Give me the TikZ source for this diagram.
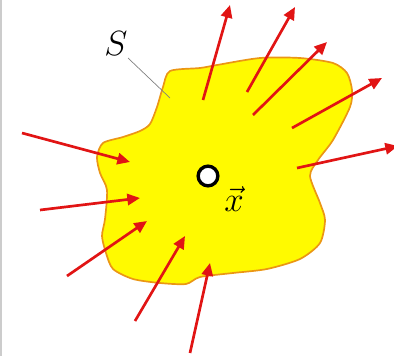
\documentclass[tikz,border=0pt]{standalone}
\usetikzlibrary{arrows.meta}
\definecolor{blobyellow}{RGB}{255,250,0}
\definecolor{bloborange}{RGB}{235,150,20}
\definecolor{fluxred}{RGB}{225,20,20}
\tikzset{
  flux/.style={-{Triangle[length=9pt,width=8pt]},line width=1.9pt,fluxred},
  biglabel/.style={font=\fontsize{30}{31}\selectfont,inner sep=0pt}
}
\begin{document}
\begin{tikzpicture}[x=0.025cm,y=-0.025cm]
  \useasboundingbox (0,0) rectangle (394,356);
  \draw[gray!40,line width=0.8pt] (1,0) -- (1,356);
  % surface S
  \draw[bloborange,fill=blobyellow,line width=1.2pt] plot[smooth cycle,tension=0.45] coordinates {
    (170,71) (200,68) (217,65) (260,58) (300,58) (333,63) (347,73) (352,90)
    (350,107) (333,140) (318,160) (310,176) (320,203) (325,220) (320,243)
    (300,259) (267,269) (233,273) (200,277) (186,284) (160,283) (133,279)
    (113,269) (106,253) (102,236) (105,219) (107,190) (100,173) (97,157)
    (103,143) (123,137) (140,131) (150,124) (157,107) (163,87)};
  \node[biglabel] (S) at (116,44) {$S$};
  \draw[gray,line width=0.5pt] (128,58) -- (170,98);
  % point x
  \node[circle,draw=black,fill=white,line width=2.4pt,minimum size=14pt,inner sep=0pt] (pt) at (208,176) {};
  \node[biglabel] (xlab) at (234,199) {$\vec{x}$};
  % outgoing
  \foreach \ax/\ay/\bx/\by in {203/100/230/5, 247/92/295/7, 253/115/327/42, 292/128/382/78, 297/168/398/146}
    {\draw[flux] (\ax,\ay) -- (\bx,\by);}
  % incoming
  \foreach \ax/\ay/\bx/\by in {22/133/130/162, 40/210/140/198, 67/276/147/221, 135/321/185/236, 190/353/210/263}
    {\draw[flux] (\ax,\ay) -- (\bx,\by);}
\end{tikzpicture}
\end{document}
